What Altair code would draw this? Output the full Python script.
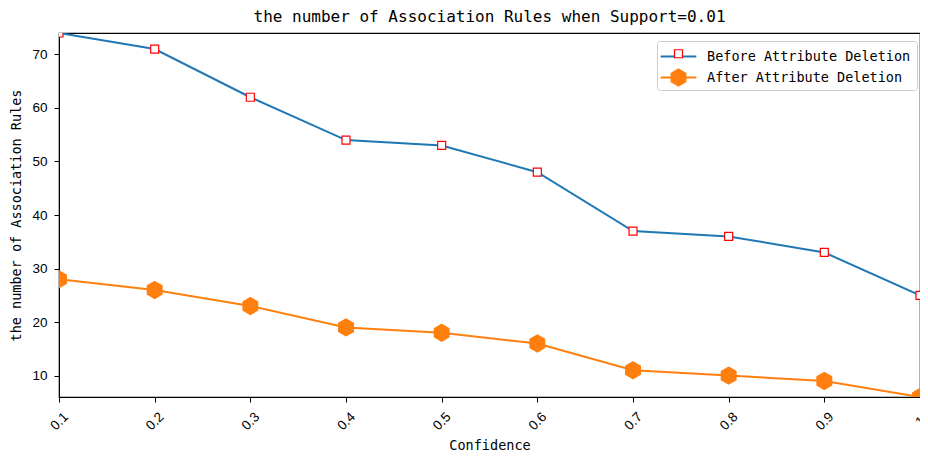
import altair as alt
import pandas as pd

confidence = [0.1, 0.2, 0.3, 0.4, 0.5, 0.6, 0.7, 0.8, 0.9, 1.0]
before = [74, 71, 62, 54, 53, 48, 37, 36, 33, 25]
after = [28, 26, 23, 19, 18, 16, 11, 10, 9, 6]
series_names = ["Before Attribute Deletion", "After Attribute Deletion"]
x_ticks = [0.1, 0.2, 0.3, 0.4, 0.5, 0.6, 0.7, 0.8, 0.9, 1.0]
y_ticks = [10, 20, 30, 40, 50, 60, 70]

rows = []
for c, b in zip(confidence, before):
    rows.append({"conf": c, "rules": b, "series": series_names[0]})
for c, a in zip(confidence, after):
    rows.append({"conf": c, "rules": a, "series": series_names[1]})
df = pd.DataFrame(rows)

MONO = "DejaVu Sans Mono"
TICKF = "Liberation Sans"
HEX = "M0,-1 L0.866,-0.5 L0.866,0.5 L0,1 L-0.866,0.5 L-0.866,-0.5 Z"
LINE_SYM = "M-2.1,0 L2.1,0"

x_enc = alt.X("conf:Q", title="Confidence",
              scale=alt.Scale(domain=[0.1, 1.0], nice=False, zero=False),
              axis=alt.Axis(values=x_ticks, format="~g", labelAngle=-45,
                            labelAlign="center", labelBaseline="middle",
                            labelPadding=19, labelFontSize=13.5, labelFont=TICKF,
                            titleFont=MONO, titleFontSize=13.5, titleFontWeight="normal",
                            titlePadding=6, grid=False, tickSize=5, tickColor="black",
                            domainColor="black", labelColor="black", titleColor="black"))
y_enc = alt.Y("rules:Q", title="the number of Association Rules",
              scale=alt.Scale(domain=[6, 74], nice=False, zero=False),
              axis=alt.Axis(values=y_ticks, labelFontSize=13.5, labelFont=TICKF,
                            labelPadding=7,
                            titleFont=MONO, titleFontSize=13.5, titleFontWeight="normal",
                            titlePadding=8, grid=False, tickSize=5, tickColor="black",
                            domainColor="black", labelColor="black", titleColor="black"))

legend_common = dict(orient="none", legendX=598, legendY=8, title=None,
                     labelFont=MONO, labelFontSize=13.5, labelColor="black",
                     labelLimit=400, rowPadding=5, padding=6, symbolOffset=6,
                     labelOffset=19)

lines = alt.Chart(df).mark_line(strokeWidth=2, clip=True).encode(
    x=x_enc, y=y_enc,
    color=alt.Color("series:N",
                    scale=alt.Scale(domain=series_names, range=["#1f77b4", "#ff7f0e"]),
                    legend=alt.Legend(symbolType=LINE_SYM, symbolSize=289, symbolStrokeWidth=2,
                                      fillColor="white", strokeColor="#cccccc",
                                      cornerRadius=3, zindex=0, **legend_common)),
)

pt_legend = alt.Legend(zindex=1, labelOpacity=0, symbolStrokeWidth=1.2, **legend_common)

pts = alt.Chart(df).mark_point(filled=False, opacity=1, strokeWidth=1.2, clip=True).encode(
    x=x_enc, y=y_enc,
    shape=alt.Shape("series:N", scale=alt.Scale(domain=series_names, range=["square", HEX]),
                    legend=pt_legend),
    fill=alt.Fill("series:N", scale=alt.Scale(domain=series_names, range=["white", "#ff7f0e"]),
                  legend=pt_legend),
    stroke=alt.Stroke("series:N", scale=alt.Scale(domain=series_names, range=["red", "#ff7f0e"]),
                      legend=pt_legend),
    size=alt.Size("series:N", scale=alt.Scale(domain=series_names, range=[64, 289]),
                  legend=pt_legend),
)

chart = alt.layer(lines, pts).resolve_scale(color="independent").properties(
    width=861, height=364,
    title=alt.TitleParams("the number of Association Rules when Support=0.01",
                          font=MONO, fontSize=16, fontWeight="normal", color="black",
                          anchor="middle", offset=8),
    autosize=alt.AutoSizeParams(type="none"),
    padding={"left": 51, "top": 25, "right": 0, "bottom": 56},
).configure_view(stroke="black", strokeWidth=1.2)

chart.save("out.html", embed_options={"renderer": "svg", "actions": False})
